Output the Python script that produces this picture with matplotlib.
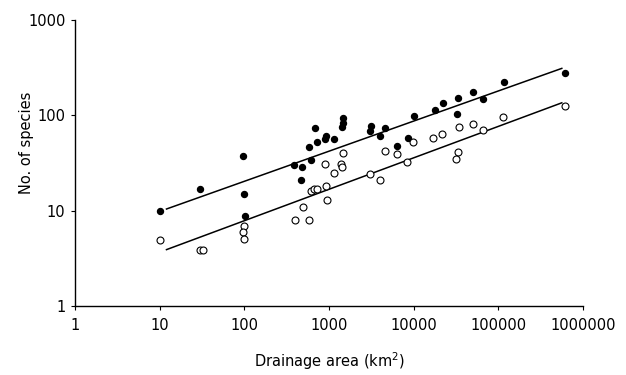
import matplotlib
matplotlib.use("Agg")
import matplotlib.pyplot as plt
from matplotlib.ticker import FixedLocator, FixedFormatter, NullLocator

# filled circles (drainage area km2, no. of species)
filled_area = [10, 30, 96, 100, 102, 390, 460, 480, 575, 610, 680, 715, 890, 925,
               1140, 1470, 1450, 1420, 3100, 3000, 4600, 4000, 6400, 8500, 10000,
               17600, 22000, 32000, 33000, 50000, 66000, 115000, 610000]
filled_species = [9.8, 17, 37, 15, 8.8, 30, 21, 29, 46, 34, 73, 53, 57, 60,
                  57, 94, 82, 75, 77, 69, 73, 60, 48, 58, 98,
                  113, 134, 103, 152, 176, 148, 223, 278]

# open circles
open_area = [10, 30, 32, 100, 97, 100, 400, 585, 485, 940, 615, 670, 720, 920,
             890, 1140, 1400, 1430, 1460, 3000, 4000, 4600, 6400, 8400, 9800,
             17000, 21500, 33000, 31500, 34000, 50000, 66000, 113000, 610000]
open_species = [4.9, 3.9, 3.9, 6.9, 5.9, 5.0, 7.9, 8.0, 10.8, 13, 16, 17, 17, 18,
                31, 25, 31, 29, 40, 24, 21, 42, 39, 32, 53,
                58, 63, 41, 35, 75, 81, 70, 96, 125]

# fitted lines (end points)
line_area = [12, 560000]
upper_species = [10.4, 310]
lower_species = [3.9, 135]

x_ticks = [1, 10, 100, 1000, 10000, 100000, 1000000]
x_labels = ['1', '10', '100', '1000', '10000', '100000', '1000000']
y_ticks = [1, 10, 100, 1000]
y_labels = ['1', '10', '100', '1000']

fig = plt.figure(figsize=(6.26, 3.75), dpi=100)
ax = fig.add_axes([0.12, 0.184, 0.8115, 0.763])

ax.plot(line_area, upper_species, color='black', lw=1.1)
ax.plot(line_area, lower_species, color='black', lw=1.1)
ax.plot(filled_area, filled_species, 'o', color='black', ms=4.3, zorder=3)
ax.plot(open_area, open_species, 'o', mfc='white', mec='black', mew=0.8, ms=5, zorder=3)

ax.set_xscale('log')
ax.set_yscale('log')
ax.set_xlim(1, 1000000)
ax.set_ylim(1, 1000)

ax.xaxis.set_major_locator(FixedLocator(x_ticks))
ax.xaxis.set_major_formatter(FixedFormatter(x_labels))
ax.yaxis.set_major_locator(FixedLocator(y_ticks))
ax.yaxis.set_major_formatter(FixedFormatter(y_labels))
ax.xaxis.set_minor_locator(NullLocator())
ax.yaxis.set_minor_locator(NullLocator())

for side in ['top', 'right']:
    ax.spines[side].set_visible(False)
for side in ['left', 'bottom']:
    ax.spines[side].set_linewidth(1.0)

ax.tick_params(direction='out', length=3, width=0.8, labelsize=10.5)
ax.tick_params(axis='x', pad=6)
ax.tick_params(axis='y', pad=4)

ax.set_xlabel('Drainage area (km$^2$)', fontsize=10.5, labelpad=12)
ax.set_ylabel('No. of species', fontsize=10.5)
ax.yaxis.set_label_coords(-0.08, 0.57)

fig.savefig('out.png', dpi=100)
